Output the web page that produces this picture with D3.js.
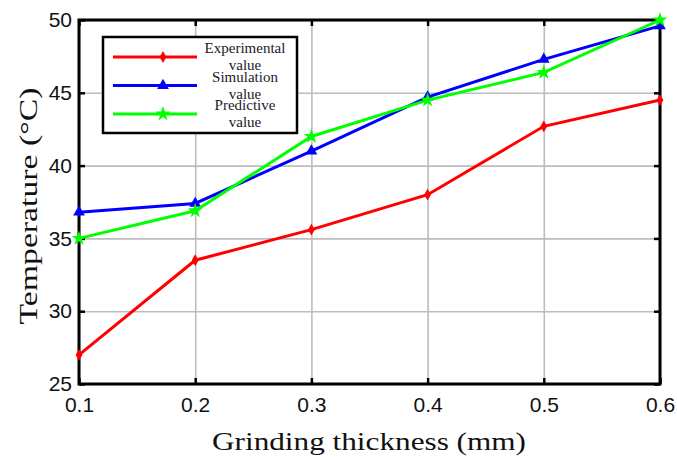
<!DOCTYPE html>
<html>
<head>
<meta charset="utf-8">
<script src="https://cdn.jsdelivr.net/npm/d3@7"></script>
<style>
  body { margin: 0; background: #fff; }
  svg { display: block; }
</style>
</head>
<body>
<svg id="chart" width="677" height="457"></svg>
<script>
// data
var thickness = [0.1, 0.2, 0.3, 0.4, 0.5, 0.6];
var experimental = [27.0, 33.5, 35.6, 38.0, 42.7, 44.5];
var simulation = [36.8, 37.4, 41.0, 44.7, 47.3, 49.6];
var predictive = [35.0, 36.9, 42.0, 44.5, 46.4, 50.0];
var xTicks = [0.1, 0.2, 0.3, 0.4, 0.5, 0.6];
var yTicks = [25, 30, 35, 40, 45, 50];
var seriesNames = ["Experimental", "Simulation", "Predictive"];

var margin = {top: 20, left: 79, right: 17, bottom: 73},
	width = 677 - margin.left - margin.right,
	height = 457 - margin.top - margin.bottom;

var svg = d3.select("#chart");
svg.append("rect").attr("width", 677).attr("height", 457).attr("fill", "#fff");

var g = svg.append("g")
	.attr("transform", "translate(" + margin.left + "," + margin.top + ")");

var x = d3.scaleLinear().domain([0.1, 0.6]).range([0, width]);
var y = d3.scaleLinear().domain([25, 50]).range([height, 0]);

// grid
g.append("g")
	.attr("class", "grid")
	.attr("transform", "translate(0," + height + ")")
	.call(d3.axisBottom(x).tickValues(xTicks).tickSize(-height).tickFormat(""));
g.append("g")
	.attr("class", "grid")
	.call(d3.axisLeft(y).tickValues(yTicks).tickSize(-width).tickFormat(""));
g.selectAll(".grid .domain").remove();
g.selectAll(".grid line").attr("stroke", "#bdbdbd").attr("stroke-width", 1.6);

// tick marks on all four sides
var xAxis = g.append("g")
	.attr("class", "ax")
	.attr("transform", "translate(0," + height + ")")
	.call(d3.axisBottom(x).tickValues(xTicks).tickSizeInner(-6).tickSizeOuter(0)
		.tickPadding(13).tickFormat(d3.format(".1f")));
var yAxis = g.append("g")
	.attr("class", "ax")
	.call(d3.axisLeft(y).tickValues(yTicks).tickSizeInner(-6).tickSizeOuter(0)
		.tickPadding(7).tickFormat(d3.format("d")));
g.append("g")
	.attr("class", "ax")
	.call(d3.axisTop(x).tickValues(xTicks).tickSizeInner(-6).tickSizeOuter(0).tickFormat(""));
g.append("g")
	.attr("class", "ax")
	.attr("transform", "translate(" + width + ",0)")
	.call(d3.axisRight(y).tickValues(yTicks).tickSizeInner(-6).tickSizeOuter(0).tickFormat(""));

g.selectAll(".domain").remove();
g.selectAll(".ax .tick line").attr("stroke", "#000").attr("stroke-width", 2.5);
[xAxis, yAxis].forEach(function(a) {
	a.selectAll("text")
		.attr("fill", "#111")
		.style("font-family", "'Liberation Sans', Arial, sans-serif")
		.style("font-size", "21px");
});

// box
g.append("rect")
	.attr("width", width)
	.attr("height", height)
	.attr("fill", "none")
	.attr("stroke", "#000")
	.attr("stroke-width", 3);

var series = [
	{name: "Experimental", values: experimental, color: "#ff0000", symbol: d3.symbolDiamond, size: 40},
	{name: "Simulation", values: simulation, color: "#0000ff", symbol: d3.symbolTriangle, size: 60},
	{name: "Predictive", values: predictive, color: "#00ff00", symbol: d3.symbolStar, size: 70}
];

var line = d3.line()
	.x(function(d) { return x(d[0]); })
	.y(function(d) { return y(d[1]); });

series.forEach(function(s) {
	var pts = d3.zip(thickness, s.values);
	g.append("path")
		.datum(pts)
		.attr("d", line)
		.attr("fill", "none")
		.attr("stroke", s.color)
		.attr("stroke-width", 3);
	g.selectAll(null)
		.data(pts)
		.enter()
		.append("path")
		.attr("d", d3.symbol().type(s.symbol).size(s.size))
		.attr("transform", function(d) { return "translate(" + x(d[0]) + "," + y(d[1]) + ")"; })
		.attr("fill", s.color);
});

// legend
var legend = svg.append("g").attr("transform", "translate(103,37)");
legend.append("rect")
	.attr("width", 194)
	.attr("height", 96)
	.attr("fill", "#fff")
	.attr("stroke", "#000")
	.attr("stroke-width", 2.5);

series.forEach(function(s, i) {
	var ly = 20 + i * 28.5;
	legend.append("line")
		.attr("x1", 10).attr("x2", 94)
		.attr("y1", ly).attr("y2", ly)
		.attr("stroke", s.color)
		.attr("stroke-width", 3);
	legend.append("path")
		.attr("d", d3.symbol().type(s.symbol).size(s.size))
		.attr("transform", "translate(60," + ly + ")")
		.attr("fill", s.color);
	var t = legend.append("text")
		.attr("text-anchor", "middle")
		.style("font-family", "'Liberation Serif', 'Times New Roman', serif")
		.style("font-size", "15px")
		.attr("fill", "#1a1a2a");
	t.append("tspan").attr("x", 142).attr("y", ly - 4).text(seriesNames[i]);
	t.append("tspan").attr("x", 142).attr("y", ly + 13).text("value");
});

// axis titles
svg.append("text")
	.attr("x", 369)
	.attr("y", 450)
	.attr("text-anchor", "middle")
	.attr("textLength", 314)
	.attr("lengthAdjust", "spacingAndGlyphs")
	.style("font-family", "'Liberation Serif', 'Times New Roman', serif")
	.style("font-size", "25px")
	.attr("fill", "#111")
	.text("Grinding thickness  (mm)");

svg.append("text")
	.attr("transform", "translate(37,206) rotate(-90)")
	.attr("text-anchor", "middle")
	.attr("textLength", 237)
	.attr("lengthAdjust", "spacingAndGlyphs")
	.style("font-family", "'Liberation Serif', 'Times New Roman', serif")
	.style("font-size", "26px")
	.attr("fill", "#111")
	.text("Temperature  (\u00B0C)");
</script>
</body>
</html>
